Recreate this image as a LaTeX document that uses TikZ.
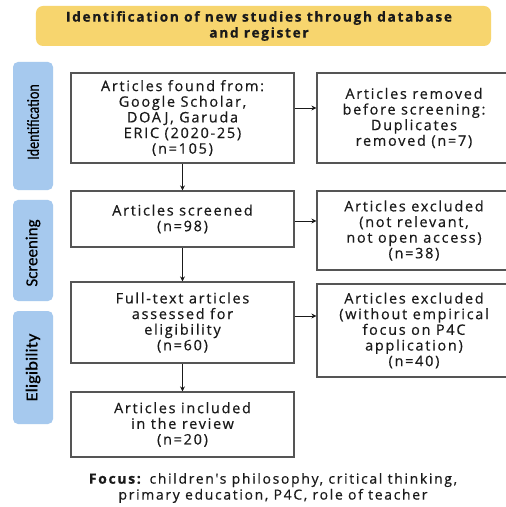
\documentclass[tikz,border=0pt]{standalone}
\usepackage{fontspec}
\setmainfont{Open Sans}
\newfontfamily\boxfont[LetterSpace=12,FakeBold=0.5]{Open Sans}
\newfontfamily\phasefont[FakeBold=0.4]{Carlito}
\usetikzlibrary{arrows.meta}
\definecolor{hdr}{HTML}{F7D56E}
\definecolor{phase}{HTML}{A6C9EE}
\definecolor{bord}{HTML}{555555}
\definecolor{ink}{HTML}{1A1A1A}
\tikzset{
  box/.style={draw=bord, line width=1.2bp, fill=white, align=center, inner sep=0pt,
    font=\boxfont\fontsize{14.5}{15.7}\selectfont, text=ink},
  phasebar/.style={fill=phase, rounded corners=5bp, minimum width=40bp, inner sep=0pt},
  phasetext/.style={rotate=90, inner sep=0pt, font=\phasefont\fontsize{17}{18}\selectfont, text=black},
  arr/.style={draw=ink, line width=0.8bp, -{Stealth[length=5bp,width=5bp]}},
}
\begin{document}
\begin{tikzpicture}[x=1bp,y=-1bp]
\useasboundingbox[fill=white] (0,0) rectangle (506,507);
% header
\node[fill=hdr, rounded corners=7bp, minimum width=455bp, minimum height=40bp, inner sep=0pt] (hdr) at (263.5,26) {};
\node[align=center, inner sep=0pt, font=\boxfont\bfseries\fontsize{13.8}{16}\selectfont, text=ink] (hdrtext) at (259,26)
  {Identification of new studies through database\\and register};
% phase bars
\node[phasebar, minimum height=128bp] (pid) at (33,126) {};
\node[phasetext] (tid) at (33,122) {\scalebox{0.83}[1]{Identification}};
\node[phasebar, minimum height=101bp] (psc) at (33,250.5) {};
\node[phasetext] (tsc) at (33,253) {\scalebox{1.0}[1]{Screening}};
\node[phasebar, minimum height=113bp] (pel) at (33,367.5) {};
\node[phasetext] (tel) at (33,367.5) {\scalebox{1.1}[1]{Eligibility}};
% main boxes
\node[box, minimum width=223bp, minimum height=90bp] (a1) at (182.5,118)
  {Articles found from:\\Google Scholar,\\DOAJ, Garuda\\ERIC (2020-25)\\(n=105)};
\node[box, minimum width=223bp, minimum height=56bp] (s) at (182.5,219)
  {Articles screened\\(n=98)};
\node[box, minimum width=223bp, minimum height=81bp] (f) at (182.5,322.5)
  {Full-text articles\\assessed for\\eligibility\\(n=60)};
\node[box, minimum width=223bp, minimum height=65bp] (inc) at (182.5,424.5)
  {Articles included\\in the review\\(n=20)};
% right boxes
\node[box, minimum width=194bp, minimum height=90bp] (r1) at (414,118)
  {Articles removed\\before screening:\\Duplicates\\removed (n=7)};
\node[box, minimum width=194bp, minimum height=79bp] (r2) at (414,230.5)
  {Articles excluded\\(not relevant,\\not open access)\\(n=38)};
\node[box, minimum width=194bp, minimum height=93bp] (r3) at (414,330.5)
  {Articles excluded\\(without empirical\\focus on P4C\\application)\\(n=40)};
% arrows
\draw[arr] (a1.south) -- (s.north);
\draw[arr] (s.south) -- (f.north);
\draw[arr] (f.south) -- (inc.north);
\draw[arr] (a1.east |- 0,108) -- (r1.west |- 0,108);
\draw[arr] (s.east |- 0,221) -- (r2.west |- 0,221);
\draw[arr] (f.east |- 0,316) -- (r3.west |- 0,316);
% focus
\node[align=center, font=\boxfont\fontsize{14}{16}\selectfont, text=ink] (focus) at (273,488)
  {\textbf{Focus:} children's philosophy, critical thinking,\\primary education, P4C, role of teacher};
\end{tikzpicture}
\end{document}
